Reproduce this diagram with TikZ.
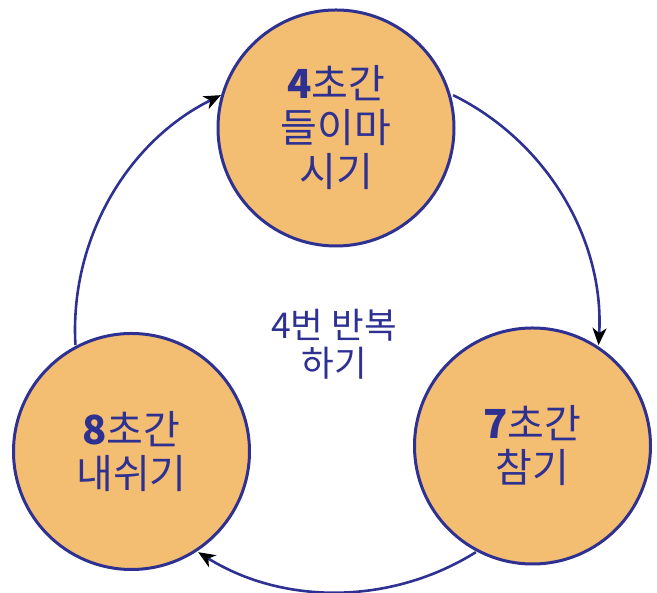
\documentclass[tikz,border=0pt]{standalone}
\usepackage{fontspec}
\setmainfont{Noto Sans CJK KR}
\usetikzlibrary{arrows.meta}
\definecolor{navy}{RGB}{46,49,146}
\definecolor{peach}{RGB}{243,189,114}
\tikzset{
  phase/.style={circle, draw=navy, line width=3pt, fill=peach, minimum size=236pt, inner sep=0pt,
    text=navy, align=center, font=\fontsize{40}{44}\selectfont},
  loop/.style={draw=navy, line width=2.6pt, -{Stealth[black,length=17pt,width=14pt,inset=5pt]}},
  note/.style={text=navy, align=center, font=\fontsize{35.5}{38}\selectfont}
}
\begin{document}
\begin{tikzpicture}[x=1pt,y=1pt]
\useasboundingbox (0,0) rectangle (657,593);
\coordinate (O) at (337,263);
\path (O) ++(63.7:262pt) coordinate (a1s);
\path (O) ++(183.3:262pt) coordinate (a3s);
\path (O) ++(-58:262pt) coordinate (a2s);
\draw[loop] (a1s) arc[start angle=63.7, end angle=-3.3, radius=262pt];
\draw[loop] (a2s) arc[start angle=-58, end angle=-122, radius=262pt];
\draw[loop] (a3s) arc[start angle=183.3, end angle=116.3, radius=262pt];
\node[phase] (inhale) at (336,465) {\textbf{4}초간\\들이마\\시기};
\node[phase] (hold) at (532.5,147) {\textbf{7}초간\\참기};
\node[phase] (exhale) at (131.5,141.5) {\textbf{8}초간\\내쉬기};
\node[note] (rep) at (334,249) {4번 반복\\하기};
\end{tikzpicture}
\end{document}
